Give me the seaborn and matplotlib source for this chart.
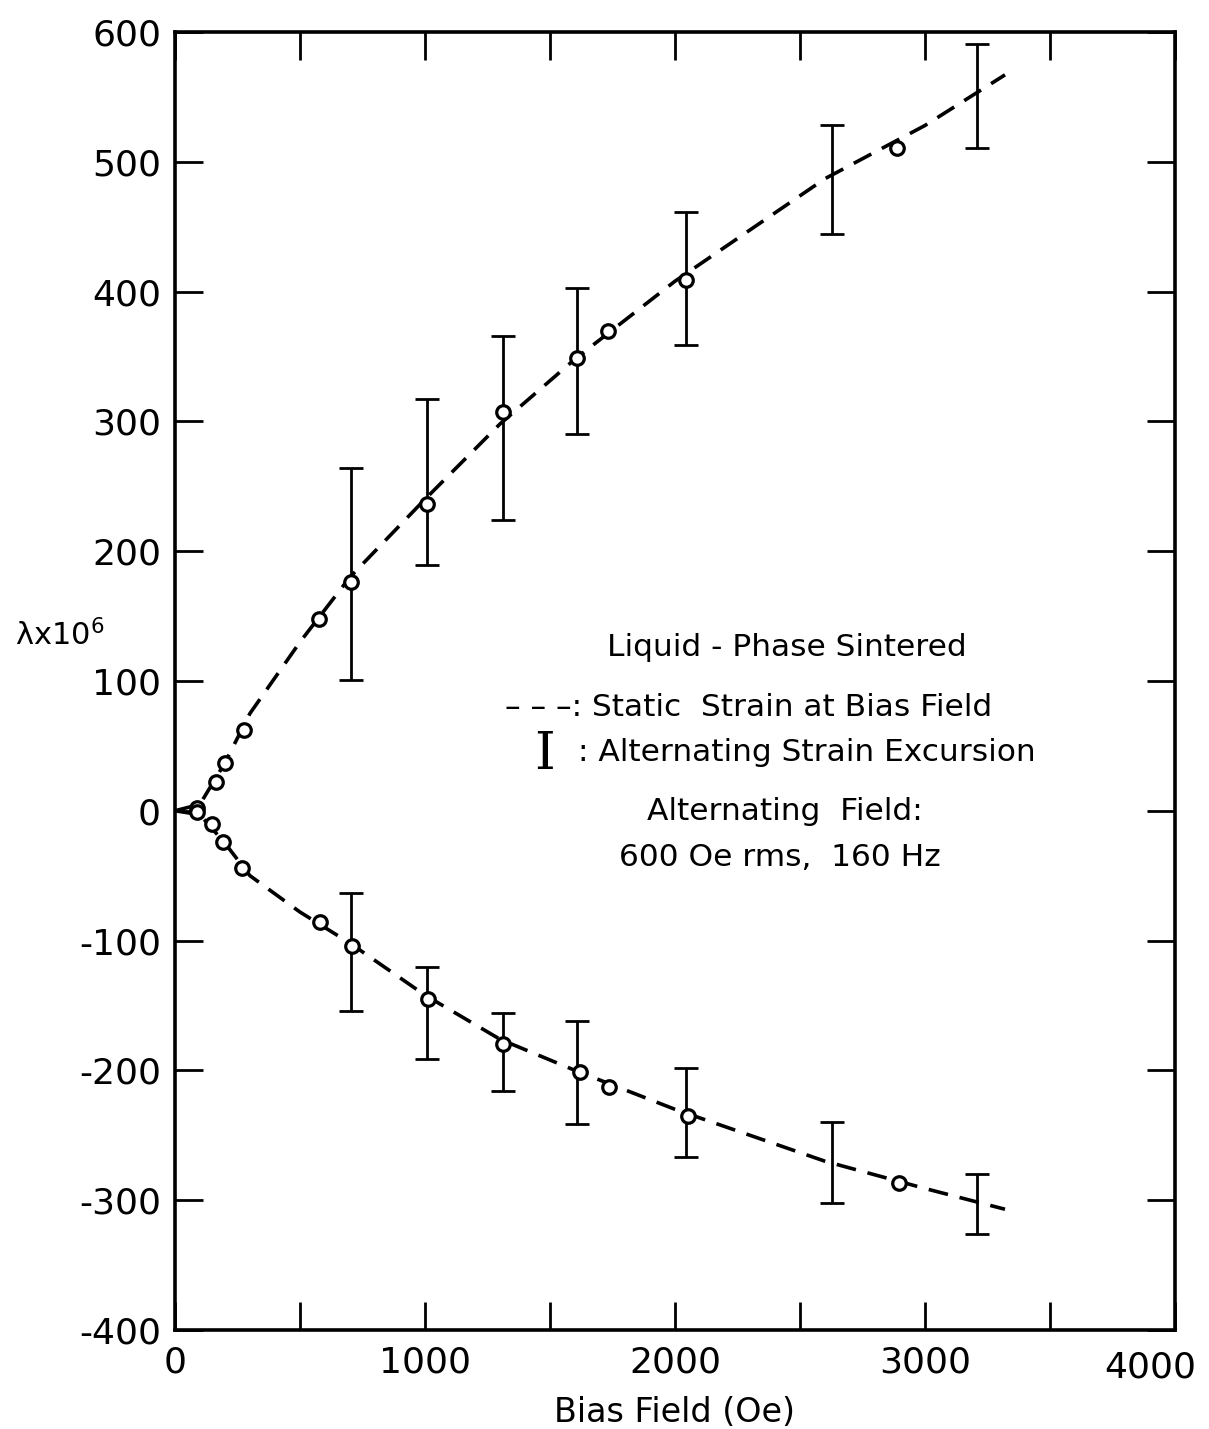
import seaborn as sns
import pandas as pd
import matplotlib
matplotlib.use("Agg")
import matplotlib.pyplot as plt
from matplotlib.transforms import ScaledTranslation

# circles (Oe, strain x 1e6)
pos_field = [88, 164, 200, 276, 576, 704, 1008, 1312, 1608, 1732, 2044, 2888]
pos_strain = [2, 22, 37, 62, 148, 176, 236, 307, 349, 370, 409, 511]
neg_field = [88, 148, 192, 268, 580, 708, 1012, 1312, 1620, 1736, 2052, 2896]
neg_strain = [-1, -10, -24, -44, -86, -104, -145, -180, -201, -213, -235, -287]

# alternating strain excursion (bar top / bottom)
bar_field = [704, 1008, 1312, 1608, 2044, 2628, 3208]
pos_top = [264, 317, 366, 403, 461, 528, 591]
pos_bot = [101, 189, 224, 290, 359, 444, 511]
neg_top = [-63, -120, -156, -162, -198, -240, -280]
neg_bot = [-154, -191, -216, -241, -267, -302, -326]

# dashed static strain curves
curve_field = [0, 100, 200, 300, 500, 700, 1000, 1300, 1600, 2000, 2600, 3000, 3320]
curve_pos = [0, 5, 37, 75, 130, 180, 240, 298, 348, 408, 487, 528, 567]
curve_neg = [0, -3, -25, -50, -78, -102, -142, -176, -200, -230, -270, -291, -307]

sns.set_theme(style="ticks")
plt.rcParams['font.family'] = ['DejaVu Sans']
plt.rcParams['axes.unicode_minus'] = False
plt.rcParams['text.color'] = 'black'
plt.rcParams['axes.labelcolor'] = 'black'
plt.rcParams['xtick.color'] = 'black'
plt.rcParams['ytick.color'] = 'black'
plt.rcParams['axes.edgecolor'] = 'black'

fig, ax = plt.subplots(figsize=(12.09, 14.29), dpi=100)
fig.subplots_adjust(left=0.1447, right=0.9719, bottom=0.0693, top=0.9776)

curves = pd.DataFrame({'field': curve_field * 2,
                       'strain': curve_pos + curve_neg,
                       'branch': ['pos'] * len(curve_field) + ['neg'] * len(curve_field)})
sns.lineplot(data=curves, x='field', y='strain', units='branch', estimator=None,
             color='black', dashes=False, ax=ax, zorder=2)
for ln in ax.get_lines():
    ln.set_linewidth(2.6)
    ln.set_linestyle((0, (5.5, 3.3)))

pts = pd.DataFrame({'field': pos_field + neg_field, 'strain': pos_strain + neg_strain})
sns.scatterplot(data=pts, x='field', y='strain', marker='o', s=95,
                facecolor='white', edgecolor='black', linewidth=2.3, ax=ax, zorder=3)

for top, bot in [(pos_top, pos_bot), (neg_top, neg_bot)]:
    mid = [(t + b) / 2 for t, b in zip(top, bot)]
    err = [(t - b) / 2 for t, b in zip(top, bot)]
    ax.errorbar(bar_field, mid, yerr=err, fmt='none', ecolor='black',
                elinewidth=2.0, capsize=8.5, capthick=2.0, zorder=2)

ax.set_xlim(0, 4000)
ax.set_ylim(-400, 600)
ax.set_xticks(range(0, 4001, 1000))
ax.set_xticks(range(0, 4001, 500), minor=True)
ax.set_yticks(range(-400, 601, 100))
ax.tick_params(axis='both', which='both', direction='in', top=True, right=True,
               length=20, width=2, labelsize=26, pad=10)
ax.tick_params(axis='x', pad=11)
for sp in ax.spines.values():
    sp.set_linewidth(2.6)

last = ax.xaxis.get_major_ticks()[-1].label1
last.set_transform(last.get_transform() + ScaledTranslation(-0.25, -0.05, fig.dpi_scale_trans))

ax.set_xlabel('Bias Field (Oe)', fontsize=24)
ax.xaxis.set_label_coords(0.5, (1330 - 1413) / 1298)
ax.xaxis.label.set_va('center')
ax.set_ylabel('λx10$^6$', fontsize=22, rotation=0)
ax.yaxis.set_label_coords(-0.115, (1330 - 635) / 1298)
ax.yaxis.label.set_va('center')

tkw = dict(transform=ax.transAxes, fontsize=22.5, color='black')
def fx(px):
    return (px - 175) / 1000
def fy(py):
    return (1330 - py) / 1298

ax.text(fx(787), fy(648), 'Liquid - Phase Sintered', ha='center', va='center', **tkw)
ax.text(fx(505), fy(708), '– – –: Static  Strain at Bias Field', ha='left', va='center', **tkw)
ax.text(fx(545), fy(755), 'I', ha='center', va='center', transform=ax.transAxes,
        fontsize=38, family='DejaVu Serif')
ax.text(fx(578), fy(753), ': Alternating Strain Excursion', ha='left', va='center', **tkw)
ax.text(fx(785), fy(812), 'Alternating  Field:', ha='center', va='center', **tkw)
ax.text(fx(780), fy(858), '600 Oe rms,  160 Hz', ha='center', va='center', **tkw)

plt.savefig('out.png', dpi=100)
